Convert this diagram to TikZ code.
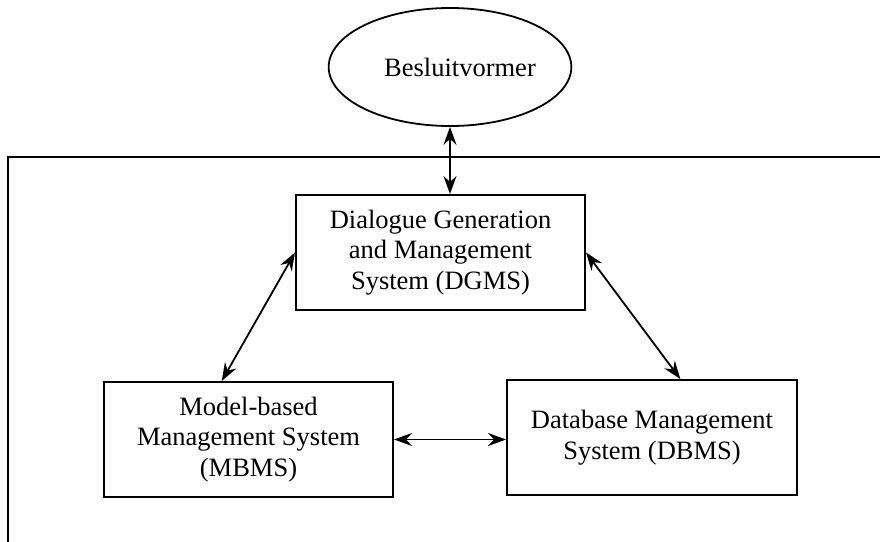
\documentclass[tikz,border=0pt]{standalone}
\usepackage{fontspec}
\setmainfont{Liberation Serif}
\usetikzlibrary{arrows.meta,calc,shapes.geometric}
\begin{document}
\begin{tikzpicture}[x=1pt,y=-1pt,
  box/.style={draw,line width=2pt,inner sep=0pt,align=center,font=\fontsize{26.5}{30.5}\selectfont},
  conn/.style={line width=1.8pt,{Stealth[length=18pt,width=13pt,inset=6pt]}-{Stealth[length=18pt,width=13pt,inset=6pt]}}]
\useasboundingbox (0,0) rectangle (880,541);
\draw[line width=2.4pt] (8,545) -- (8,157) -- (885,157);
\node[box,ellipse,minimum width=232pt,minimum height=118pt,line width=1.8pt] (ell) at (450,67) {\hspace*{20pt}Besluitvormer};
\node[box,minimum width=289pt,minimum height=115pt] (dgms) at (440.5,252.5) {Dialogue Generation\\and Management\\System (DGMS)};
\node[box,minimum width=289pt,minimum height=115pt] (mbms) at (248.5,439.5) {Model-based\\Management System\\(MBMS)};
\node[box,minimum width=290pt,minimum height=115pt] (dbms) at (652,437.5) {Database Management\\System (DBMS)};
\draw[conn] (ell.south) -- (ell.south |- dgms.north);
\draw[conn] (dgms.west) -- ($(mbms.north west)!0.408!(mbms.north east)$);
\draw[conn] (dgms.east) -- ($(dbms.north west)!0.597!(dbms.north east)$);
\draw[conn] (mbms.east) -- (mbms.east -| dbms.west);
\end{tikzpicture}
\end{document}
